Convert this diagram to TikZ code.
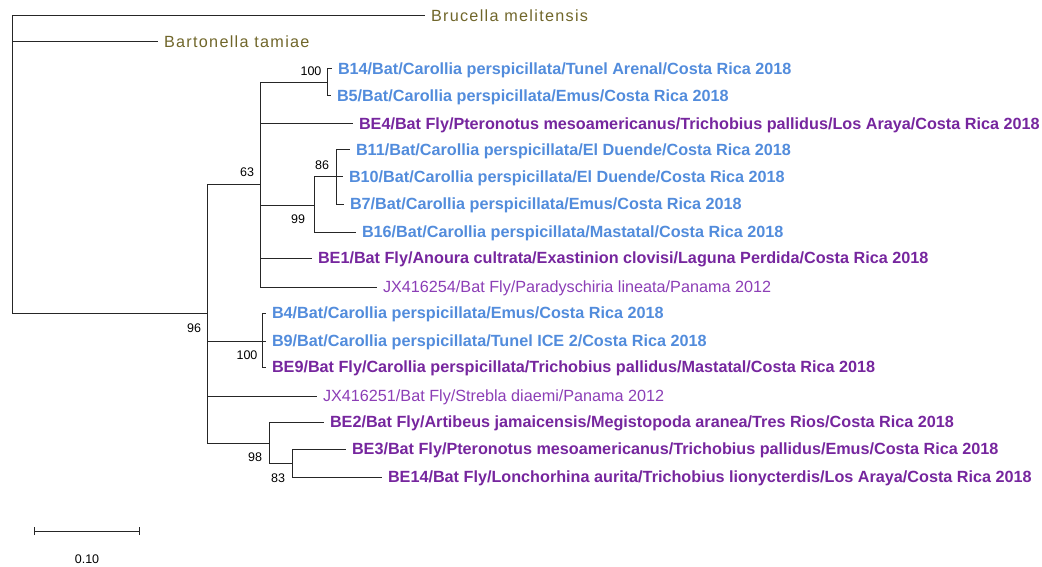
\documentclass[tikz,border=0pt]{standalone}
\usepackage{fontspec}
\setmainfont{Liberation Sans}
\usetikzlibrary{arrows.meta}

\definecolor{outgrp}{RGB}{112,102,42}
\definecolor{batblue}{RGB}{82,140,220}
\definecolor{flypurple}{RGB}{118,38,158}
\definecolor{refpurple}{RGB}{140,62,182}

\newcommand{\leaffont}{\fontsize{16.2}{18}\selectfont}

\tikzset{
  taxon/.style={anchor=west,inner xsep=6pt,inner ysep=0pt,outer sep=0pt,
    text height=11.5pt,text depth=0pt},
  outleaf/.style={taxon,text=outgrp,font=\leaffont\addfontfeature{LetterSpace=8}},
  batleaf/.style={taxon,text=batblue,font=\leaffont\bfseries},
  flyleaf/.style={taxon,text=flypurple,font=\leaffont\bfseries},
  refleaf/.style={taxon,text=refpurple,font=\leaffont},
  boot/.style={inner sep=0pt,font=\fontsize{12.5}{14}\selectfont},
  branch/.style={line width=1pt,black!85}
}

\begin{document}
\begin{tikzpicture}[x=1pt,y=-1pt,line join=miter]

  \useasboundingbox (0,0) rectangle (1042,567);

  % outgroups
  \node[outleaf] (bru)  at (425,16) {Brucella melitensis};
  \node[outleaf] (bart) at (158,42) {Bartonella tamiae};

  % bootstrap 63 clade
  \node[batleaf] (b14) at (332,69)  {B14/Bat/Carollia perspicillata/Tunel Arenal/Costa Rica 2018};
  \node[batleaf] (b5)  at (331,96)  {B5/Bat/Carollia perspicillata/Emus/Costa Rica 2018};
  \node[flyleaf] (be4) at (353,124) {BE4/Bat Fly/Pteronotus mesoamericanus/Trichobius pallidus/Los Araya/Costa Rica 2018};
  \node[batleaf] (b11) at (350,150) {B11/Bat/Carollia perspicillata/El Duende/Costa Rica 2018};
  \node[batleaf] (b10) at (343,177) {B10/Bat/Carollia perspicillata/El Duende/Costa Rica 2018};
  \node[batleaf] (b7)  at (344,204) {B7/Bat/Carollia perspicillata/Emus/Costa Rica 2018};
  \node[batleaf] (b16) at (356,232) {B16/Bat/Carollia perspicillata/Mastatal/Costa Rica 2018};
  \node[flyleaf] (be1) at (312,258) {BE1/Bat Fly/Anoura cultrata/Exastinion clovisi/Laguna Perdida/Costa Rica 2018};
  \node[refleaf] (jx254) at (377,287) {JX416254/Bat Fly/Paradyschiria lineata/Panama 2012};

  % bootstrap 100 clade
  \node[batleaf] (b4)  at (266,313) {B4/Bat/Carollia perspicillata/Emus/Costa Rica 2018};
  \node[batleaf] (b9)  at (266,341) {B9/Bat/Carollia perspicillata/Tunel ICE 2/Costa Rica 2018};
  \node[flyleaf] (be9) at (266,367) {BE9/Bat Fly/Carollia perspicillata/Trichobius pallidus/Mastatal/Costa Rica 2018};
  \node[refleaf] (jx251) at (317,396) {JX416251/Bat Fly/Strebla diaemi/Panama 2012};

  % bootstrap 98 clade
  \node[flyleaf] (be2)  at (324,422) {BE2/Bat Fly/Artibeus jamaicensis/Megistopoda aranea/Tres Rios/Costa Rica 2018};
  \node[flyleaf] (be3)  at (346,449) {BE3/Bat Fly/Pteronotus mesoamericanus/Trichobius pallidus/Emus/Costa Rica 2018};
  \node[flyleaf] (be14) at (382,477) {BE14/Bat Fly/Lonchorhina aurita/Trichobius lionycterdis/Los Araya/Costa Rica 2018};

  % internal nodes
  \coordinate (root)  at (12,164);
  \coordinate (n96)   at (207,313);
  \coordinate (n63)   at (260,185);
  \coordinate (n100a) at (327,83);
  \coordinate (n99)   at (314,205);
  \coordinate (n86)   at (336,177);
  \coordinate (n100b) at (262,341);
  \coordinate (n98)   at (269,443);
  \coordinate (n83)   at (292,463);

  % branches
  \foreach \c in {bru.west,bart.west,n96}
    \draw[branch] (root) |- (\c);
  \foreach \c in {n63,n100b,jx251.west,n98}
    \draw[branch] (n96) |- (\c);
  \foreach \c in {n100a,be4.west,n99,be1.west,jx254.west}
    \draw[branch] (n63) |- (\c);
  \foreach \c in {b14.west,b5.west}
    \draw[branch] (n100a) |- (\c);
  \foreach \c in {n86,b16.west}
    \draw[branch] (n99) |- (\c);
  \foreach \c in {b11.west,b10.west,b7.west}
    \draw[branch] (n86) |- (\c);
  \foreach \c in {b4.west,b9.west,be9.west}
    \draw[branch] (n100b) |- (\c);
  \foreach \c in {be2.west,n83}
    \draw[branch] (n98) |- (\c);
  \foreach \c in {be3.west,be14.west}
    \draw[branch] (n83) |- (\c);

  % bootstrap values
  \node[boot] (bs100a) at (311,71)  {100};
  \node[boot] (bs63)   at (247,172) {63};
  \node[boot] (bs86)   at (322,165) {86};
  \node[boot] (bs99)   at (298,219) {99};
  \node[boot] (bs96)   at (194,328) {96};
  \node[boot] (bs100b) at (247,355) {100};
  \node[boot] (bs98)   at (255,457) {98};
  \node[boot] (bs83)   at (278,478) {83};

  % scale bar
  \coordinate (sbl) at (34,531);
  \coordinate (sbr) at (140,531);
  \draw[branch,{Bar[width=8pt,line width=1pt]}-{Bar[width=8pt,line width=1pt]}] (sbl) -- (sbr);
  \node[boot] (sblab) at (87,559) {0.10};
\end{tikzpicture}
\end{document}
